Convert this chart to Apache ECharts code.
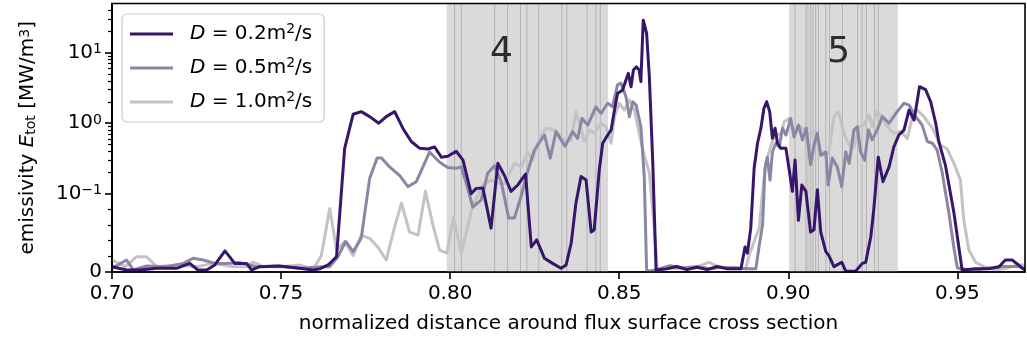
<!DOCTYPE html>
<html>
<head>
<meta charset="utf-8">
<script src="https://cdn.jsdelivr.net/npm/echarts@6/dist/echarts.min.js"></script>
<style>
  html, body { margin: 0; padding: 0; background: #fff; }
  #chart { width: 1027px; height: 344px; }
</style>
</head>
<body>
<div id="chart"></div>
<script>
// Emissivity profiles along the flux-surface cross section for three diffusion coefficients.

// D = 0.2 m^2/s
const xD02 = [0.7000,0.7043,0.7083,0.7132,0.7191,0.7230,0.7254,0.7280,0.7304,0.7334,0.7363,0.7398,0.7413,0.7437,0.7496,0.7555,0.7594,0.7614,0.7639,0.7664,0.7688,0.7713,0.7737,0.7762,0.7789,0.7811,0.7836,0.7860,0.7885,0.7910,0.7934,0.7954,0.7974,0.7993,0.8018,0.8038,0.8062,0.8077,0.8097,0.8121,0.8141,0.8161,0.8180,0.8200,0.8223,0.8240,0.8256,0.8279,0.8303,0.8328,0.8343,0.8358,0.8372,0.8387,0.8402,0.8417,0.8426,0.8441,0.8451,0.8466,0.8476,0.8486,0.8495,0.8510,0.8520,0.8527,0.8535,0.8542,0.8551,0.8559,0.8564,0.8571,0.8581,0.8589,0.8599,0.8609,0.8640,0.8670,0.8700,0.8730,0.8760,0.8790,0.8820,0.8860,0.8872,0.8879,0.8889,0.8899,0.8909,0.8919,0.8928,0.8936,0.8945,0.8953,0.8961,0.8968,0.8978,0.8993,0.9002,0.9012,0.9020,0.9030,0.9040,0.9052,0.9066,0.9076,0.9086,0.9096,0.9111,0.9120,0.9135,0.9158,0.9170,0.9199,0.9219,0.9229,0.9244,0.9253,0.9266,0.9280,0.9298,0.9312,0.9327,0.9342,0.9357,0.9372,0.9388,0.9406,0.9421,0.9436,0.9445,0.9465,0.9490,0.9514,0.9554,0.9593,0.9623,0.9642,0.9662,0.9687,0.9700];
const yD02 = [0.0068,0.0026,0.0026,0.0047,0.0047,0.011,0.0026,0.0026,0.009,0.027,0.011,0.011,0.0026,0.0068,0.0077,0.0047,0.0026,0.004,0.009,0.0195,0.44,1.34,1.46,1.24,1.0,1.24,1.46,0.85,0.55,0.44,0.43,0.46,0.33,0.34,0.40,0.30,0.10,0.119,0.12,0.056,0.27,0.18,0.108,0.133,0.19,0.032,0.041,0.0175,0.011,0.0047,0.009,0.037,0.088,0.175,0.156,0.051,0.054,0.217,0.52,0.68,0.80,1.54,2.65,2.96,4.1,5.1,3.3,5.7,6.3,5.7,3.9,29,18.8,4.6,0.30,0.0026,0.004,0.007,0.003,0.006,0.003,0.007,0.004,0.004,0.032,0.024,0.056,0.23,0.52,0.85,1.63,2.02,1.46,0.61,0.85,0.52,0.44,0.44,0.23,0.108,0.30,0.066,0.133,0.108,0.051,0.054,0.114,0.051,0.026,0.021,0.0068,0.0125,0.001,0.001,0.011,0.0125,0.045,0.081,0.33,0.148,0.24,0.46,0.68,0.80,1.54,1.11,3.3,3.0,2.02,1.0,0.55,0.25,0.075,0.0026,0.004,0.004,0.0068,0.0153,0.0153,0.0068,0.0026];

// D = 0.5 m^2/s
const xD05 = [0.7000,0.7043,0.7063,0.7102,0.7162,0.7211,0.7240,0.7270,0.7304,0.7339,0.7378,0.7427,0.7486,0.7555,0.7624,0.7644,0.7668,0.7691,0.7713,0.7737,0.7762,0.7784,0.7797,0.7821,0.7851,0.7875,0.7900,0.7939,0.7969,0.7993,0.8018,0.8033,0.8052,0.8067,0.8092,0.8111,0.8131,0.8151,0.8173,0.8190,0.8210,0.8229,0.8249,0.8279,0.8296,0.8313,0.8340,0.8362,0.8377,0.8390,0.8407,0.8431,0.8446,0.8466,0.8480,0.8495,0.8505,0.8520,0.8530,0.8540,0.8550,0.8564,0.8574,0.8581,0.8589,0.8618,0.8650,0.8690,0.8730,0.8770,0.8800,0.8840,0.8880,0.8904,0.8914,0.8924,0.8931,0.8938,0.8946,0.8953,0.8963,0.8973,0.8983,0.8993,0.9007,0.9017,0.9030,0.9042,0.9053,0.9066,0.9076,0.9086,0.9096,0.9111,0.9118,0.9130,0.9145,0.9158,0.9170,0.9180,0.9194,0.9204,0.9214,0.9226,0.9237,0.9248,0.9263,0.9278,0.9298,0.9322,0.9342,0.9357,0.9377,0.9396,0.9411,0.9426,0.9440,0.9455,0.9475,0.9490,0.9500,0.9544,0.9593,0.9632,0.9682,0.9700];
const yD05 = [0.0047,0.0153,0.0026,0.0077,0.0068,0.011,0.0175,0.0153,0.011,0.011,0.012,0.0068,0.0077,0.0047,0.0068,0.0068,0.0195,0.039,0.026,0.043,0.165,0.32,0.32,0.24,0.18,0.126,0.148,0.39,0.28,0.235,0.23,0.24,0.119,0.083,0.092,0.195,0.25,0.148,0.069,0.069,0.097,0.205,0.417,0.68,0.32,0.76,0.47,0.76,0.61,1.17,0.94,1.71,1.38,1.92,1.71,3.5,3.7,2.38,1.24,2.02,1.81,0.89,0.175,0.003,0.001,0.004,0.008,0.005,0.007,0.004,0.006,0.005,0.004,0.004,0.034,0.06,0.23,0.33,0.156,0.39,0.52,0.46,0.85,0.68,1.17,0.64,0.94,0.58,0.85,0.26,0.49,0.72,0.35,0.39,0.133,0.32,0.24,0.126,0.39,0.27,0.80,0.89,0.39,0.30,0.80,0.58,0.80,1.24,1.0,1.46,1.92,1.81,1.24,0.94,0.55,0.52,0.42,0.2,0.075,0.03,0.005,0.002,0.005,0.007,0.007,0.003];

// D = 1.0 m^2/s
const xD10 = [0.7000,0.7039,0.7073,0.7102,0.7132,0.7191,0.7250,0.7299,0.7358,0.7398,0.7417,0.7447,0.7496,0.7555,0.7594,0.7619,0.7644,0.7664,0.7688,0.7713,0.7737,0.7762,0.7786,0.7811,0.7836,0.7856,0.7880,0.7905,0.7927,0.7949,0.7969,0.7990,0.8010,0.8033,0.8067,0.8097,0.8121,0.8141,0.8161,0.8190,0.8210,0.8229,0.8244,0.8264,0.8284,0.8308,0.8333,0.8343,0.8358,0.8372,0.8382,0.8397,0.8412,0.8426,0.8446,0.8461,0.8476,0.8486,0.8500,0.8515,0.8530,0.8545,0.8559,0.8574,0.8589,0.8599,0.8613,0.8650,0.8700,0.8740,0.8766,0.8800,0.8840,0.8874,0.8884,0.8899,0.8914,0.8924,0.8933,0.8943,0.8953,0.8963,0.8978,0.8988,0.9002,0.9017,0.9032,0.9047,0.9061,0.9076,0.9091,0.9106,0.9120,0.9135,0.9148,0.9165,0.9180,0.9194,0.9209,0.9224,0.9239,0.9248,0.9263,0.9278,0.9293,0.9312,0.9332,0.9352,0.9367,0.9381,0.9401,0.9426,0.9450,0.9470,0.9490,0.9509,0.9519,0.9534,0.9554,0.9578,0.9613,0.9642,0.9682,0.9700];
const yD10 = [0.0153,0.0068,0.0195,0.0195,0.0068,0.009,0.0068,0.011,0.0068,0.0068,0.0125,0.0068,0.0068,0.009,0.0026,0.021,0.081,0.028,0.039,0.021,0.047,0.043,0.032,0.0153,0.058,0.088,0.051,0.047,0.108,0.06,0.028,0.024,0.069,0.024,0.085,0.133,0.156,0.14,0.14,0.27,0.24,0.39,0.30,0.61,0.85,0.80,0.61,0.55,0.58,1.46,1.0,0.55,0.80,0.72,1.0,0.89,0.52,1.24,1.92,1.54,2.13,1.54,0.72,0.35,0.2,0.08,0.002,0.005,0.004,0.008,0.0125,0.005,0.006,0.004,0.021,0.039,0.056,0.108,0.26,0.39,0.55,0.72,0.68,1.05,1.17,0.76,0.94,0.80,0.68,0.76,0.44,0.35,0.39,1.24,1.46,0.72,0.49,0.46,0.89,0.94,1.3,0.89,1.46,1.24,0.89,0.72,0.76,0.61,1.24,1.54,1.24,0.85,0.49,0.43,0.27,0.156,0.066,0.028,0.0125,0.0068,0.0026,0.0047,0.009,0.009];

const seriesNames = ['D = 0.2m²/s', 'D = 0.5m²/s', 'D = 1.0m²/s'];
const seriesCoeffs = ['0.2', '0.5', '1.0'];
const seriesColors = ['#36166b', '#8c86a5', '#c3c3c3'];

// Shaded sections with their internal boundaries
const sectionSpans = [[0.7990, 0.8467], [0.9002, 0.9324]];
const sectionLines = [0.8013,0.8033,0.8132,0.8170,0.8208,0.8227,0.8262,0.8330,0.8345,0.8405,0.8431,0.8444,
                      0.9020,0.9052,0.9058,0.9066,0.9073,0.9081,0.9089,0.9111,0.9122,0.9160,0.9205,0.9218,0.9231,0.9255,0.9266];
const sectionNames = ['4', '5'];
const sectionNameX = [0.8152, 0.9149];
const sectionNameY = 10;

// Axes
const xMin = 0.70, xMax = 0.97;
const xTicks = [0.70, 0.75, 0.80, 0.85, 0.90, 0.95];
const yMax = 50;
const yTicks = [0, 0.1, 1, 10];
const yTickText = ['0', '10{sup|−1}', '10{sup|0}', '10{sup|1}'];
const yMinorTicks = [0.02,0.04,0.06,0.08,0.2,0.3,0.4,0.5,0.6,0.7,0.8,0.9,2,3,4,5,6,7,8,9,20,30,40];

// Symmetric log scale: linear up to 0.1, logarithmic above
const LINTHRESH = 0.1;
const LINSCALE = 1 / (1 - 1 / 10);
function symlog(v) {
  const a = Math.abs(v), s = v < 0 ? -1 : 1;
  return a <= LINTHRESH ? s * a / LINTHRESH * LINSCALE : s * (LINSCALE + Math.log10(a / LINTHRESH));
}
const pairs = (xs, ys) => xs.map((x, i) => [x, symlog(ys[i])]);
const yTop = symlog(yMax);

const FONT = 'DejaVu Sans';
const chart = echarts.init(document.getElementById('chart'), null, { renderer: 'canvas' });

const lineSeries = [[xD02, yD02], [xD05, yD05], [xD10, yD10]].map((d, i) => ({
  name: seriesNames[i],
  type: 'line',
  data: pairs(d[0], d[1]),
  symbol: 'none',
  showSymbol: false,
  lineStyle: { color: seriesColors[i], width: 3, join: 'round' },
  itemStyle: { color: seriesColors[i] },
  z: 10 - i,
  animation: false
}));

const option = {
  animation: false,
  backgroundColor: '#fff',
  textStyle: { fontFamily: FONT },
  grid: { left: 112, right: 2, top: 3.5, bottom: 72, show: true, borderColor: '#000', borderWidth: 1.6, backgroundColor: 'transparent', z: 20 },
  legend: {
    data: seriesNames,
    orient: 'vertical',
    left: 122, top: 14,
    icon: 'rect',
    itemWidth: 43, itemHeight: 3, itemGap: 10,
    padding: [8, 12, 8, 8],
    backgroundColor: 'rgba(255,255,255,0.85)',
    borderColor: '#cccccc', borderWidth: 1.2, borderRadius: 5,
    formatter: name => '{i|D} = ' + seriesCoeffs[seriesNames.indexOf(name)] + 'm{sup|2}/s',
    textStyle: {
      fontFamily: FONT, fontSize: 20, color: '#000', lineHeight: 24,
      rich: {
        i: { fontFamily: FONT, fontSize: 20, fontStyle: 'italic', color: '#000', padding: [0, 0, 0, 12] },
        sup: { fontFamily: FONT, fontSize: 14, color: '#000', verticalAlign: 'top', lineHeight: 14 }
      }
    }
  },
  xAxis: {
    type: 'value', min: xMin, max: xMax,
    name: 'normalized distance around flux surface cross section',
    nameLocation: 'middle', nameGap: 42,
    nameTextStyle: { fontFamily: FONT, fontSize: 20, color: '#000' },
    axisLine: { show: true, onZero: false, lineStyle: { color: '#000', width: 1.6 } },
    axisTick: { show: true, length: 7, customValues: xTicks, lineStyle: { color: '#000', width: 1.6 } },
    axisLabel: { customValues: xTicks, margin: 12, fontFamily: FONT, fontSize: 20, color: '#000', formatter: v => v.toFixed(2) },
    splitLine: { show: false }
  },
  yAxis: [{
    type: 'value', min: 0, max: yTop,
    name: '{n|emissivity }{i|E}{sub|tot}{n| [MW/m}{sup|3}{n|]}',
    nameLocation: 'middle', nameGap: 74, nameRotate: 90,
    nameTextStyle: {
      fontFamily: FONT, fontSize: 20, color: '#000',
      rich: {
        n: { fontFamily: FONT, fontSize: 20, color: '#000' },
        i: { fontFamily: FONT, fontSize: 20, fontStyle: 'italic', color: '#000' },
        sub: { fontFamily: FONT, fontSize: 14, color: '#000', verticalAlign: 'bottom', lineHeight: 14 },
        sup: { fontFamily: FONT, fontSize: 14, color: '#000', verticalAlign: 'top', lineHeight: 14 }
      }
    },
    axisLine: { show: true, onZero: false, lineStyle: { color: '#000', width: 1.6 } },
    axisTick: { show: true, length: 7, customValues: yTicks.map(symlog), lineStyle: { color: '#000', width: 1.6 } },
    axisLabel: {
      customValues: yTicks.map(symlog), margin: 10, fontFamily: FONT, fontSize: 20, color: '#000',
      formatter: v => {
        let best = 0;
        yTicks.forEach((t, i) => { if (Math.abs(symlog(t) - v) < Math.abs(symlog(yTicks[best]) - v)) best = i; });
        return yTickText[best];
      },
      rich: { sup: { fontFamily: FONT, fontSize: 14, color: '#000', verticalAlign: 'top', lineHeight: 14 } }
    },
    splitLine: { show: false }
  }, {
    type: 'value', min: 0, max: yTop, position: 'left', offset: 0,
    axisLine: { show: true, onZero: false, lineStyle: { color: '#000', width: 1.6 } },
    axisTick: { show: true, length: 4, customValues: yMinorTicks.map(symlog), lineStyle: { color: '#000', width: 1.2 } },
    axisLabel: { show: false, customValues: yMinorTicks.map(symlog) },
    splitLine: { show: false }
  }],
  series: [
    {
      // shaded sections drawn through the axis scales
      name: 'sections', type: 'custom', z: 1, silent: true,
      data: sectionSpans,
      renderItem: (params, api) => {
        const p0 = api.coord([api.value(0), yTop]);
        const p1 = api.coord([api.value(1), 0]);
        return { type: 'rect', shape: { x: p0[0], y: p0[1], width: p1[0] - p0[0], height: p1[1] - p0[1] }, style: { fill: '#dadada' } };
      },
      encode: { x: [0, 1] }
    },
    {
      name: 'sectionBounds', type: 'custom', z: 2, silent: true,
      data: sectionLines.map(v => [v]),
      renderItem: (params, api) => {
        const p0 = api.coord([api.value(0), yTop]);
        const p1 = api.coord([api.value(0), 0]);
        return { type: 'line', shape: { x1: p0[0], y1: p0[1], x2: p1[0], y2: p1[1] }, style: { stroke: '#b3b3b3', lineWidth: 1 } };
      },
      encode: { x: 0 }
    },
    {
      name: 'sectionNames', type: 'scatter', symbolSize: 1, z: 3, silent: true,
      itemStyle: { color: 'rgba(0,0,0,0)' },
      data: sectionNames.map((n, i) => ({ name: n, value: [sectionNameX[i], symlog(sectionNameY)] })),
      label: { show: true, position: 'inside', formatter: '{b}', fontFamily: FONT, fontSize: 36, color: '#000' }
    },
    ...lineSeries
  ]
};
chart.setOption(option);
</script>
</body>
</html>
